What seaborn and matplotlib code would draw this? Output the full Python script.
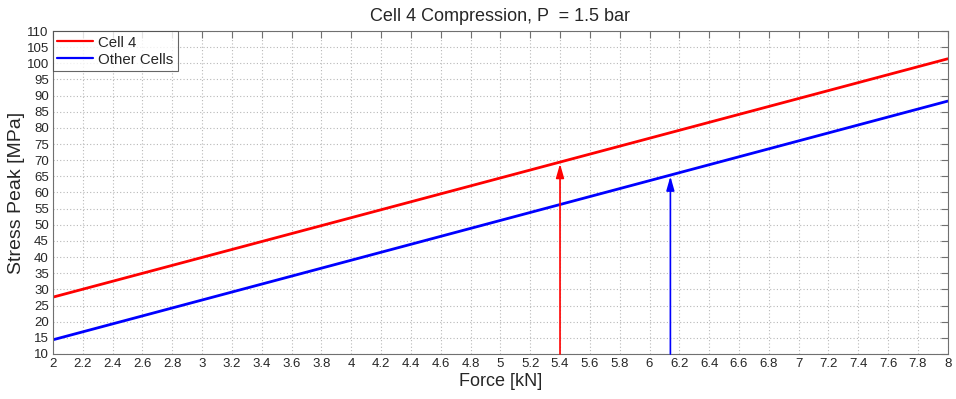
import numpy as np
import pandas as pd
import matplotlib
matplotlib.use("Agg")
import matplotlib.pyplot as plt
import seaborn as sns

# Data
force = [2.0, 8.0]
cell4 = [27.6, 101.4]
other_cells = [14.4, 88.3]
series_names = ["Cell 4", "Other Cells"]
arrow_x = [5.4, 6.14]
arrow_tip = [68.9, 65.0]
arrow_base = 10.0
title = "Cell 4 Compression, P  = 1.5 bar"

sns.set_theme(style="white")
plt.rcParams['font.family'] = ['Liberation Sans', 'DejaVu Sans']

df = pd.DataFrame({
    "Force": force + force,
    "Stress": cell4 + other_cells,
    "Series": [series_names[0]] * len(force) + [series_names[1]] * len(force),
})

fig = plt.figure(figsize=(9.56, 3.99), dpi=100)
ax = fig.add_axes([0.0554, 0.1128, 0.936, 0.8095])

palette = {series_names[0]: "#ff0000", series_names[1]: "#0000ff"}
sns.lineplot(data=df, x="Force", y="Stress", hue="Series", palette=palette,
             linewidth=2, ax=ax, legend=True)

for xa, tip, col in zip(arrow_x, arrow_tip, ["#ff0000", "#0000ff"]):
    ax.annotate("", xy=(xa, tip), xytext=(xa, arrow_base),
                arrowprops=dict(arrowstyle="-|>,head_length=0.7,head_width=0.2",
                                color=col, lw=1.2, shrinkA=0, shrinkB=0))

ax.set_xlim(2, 8)
ax.set_ylim(10, 110)
xt = np.round(np.arange(2, 8.0001, 0.2), 1)
ax.set_xticks(xt)
ax.set_xticklabels([f"{v:g}" for v in xt])
yt = np.arange(10, 111, 5)
ax.set_yticks(yt)
ax.set_yticklabels([str(v) for v in yt])
ax.tick_params(direction="in", length=5, width=0.8, color="#707070",
               labelsize=9.5, top=True, right=True, pad=3)
ax.grid(True, linestyle=(0, (1, 2)), color="#b8b8b8", linewidth=0.8)
for s in ax.spines.values():
    s.set_color("#707070")
    s.set_linewidth(0.8)

ax.set_xlabel("Force [kN]", fontsize=13, labelpad=2)
ax.set_ylabel("Stress Peak [MPa]", fontsize=14, labelpad=1)
ax.set_title(title, fontsize=13, pad=7)

leg = ax.legend(loc="upper left", fontsize=10.8, frameon=True, fancybox=False,
                borderaxespad=0, handlelength=2.4, borderpad=0.3,
                labelspacing=0.2, handletextpad=0.3)
leg.get_frame().set_edgecolor("#404040")
leg.get_frame().set_linewidth(0.8)
for h in leg.get_lines():
    h.set_linewidth(1.6)
leg.set_title(None)

fig.savefig("out.png", dpi=100)
